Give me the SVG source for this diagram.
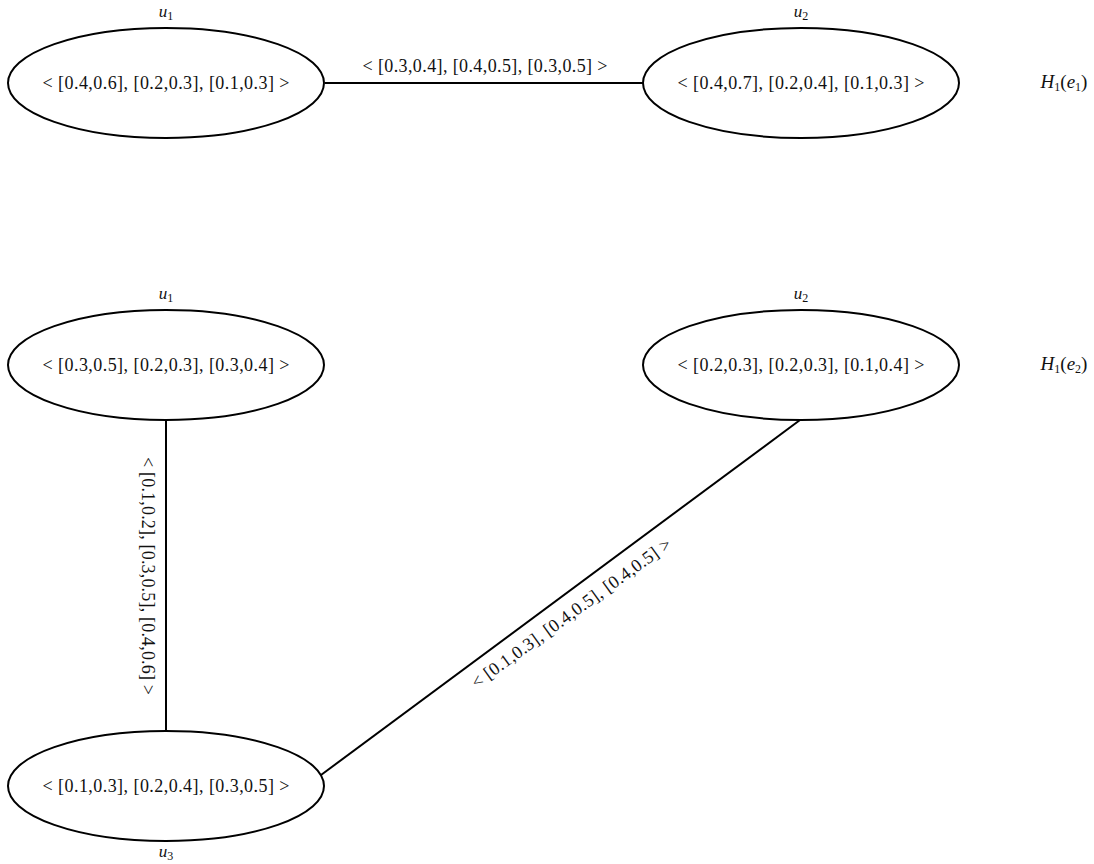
<svg xmlns="http://www.w3.org/2000/svg" width="1094" height="864" viewBox="0 0 1094 864">
  <style>
    .node { fill: #ffffff; stroke: #000000; stroke-width: 2; }
    .edge { stroke: #000000; stroke-width: 2; fill: none; }
    .val { font-family: "Liberation Serif", "Times New Roman", serif; font-size: 18px; fill: #111111; text-anchor: middle; }
    .name { font-family: "Liberation Serif", "Times New Roman", serif; font-size: 17px; font-style: italic; fill: #111111; text-anchor: middle; }
    .title { font-size: 19px; }
    .sub { font-size: 12px; font-style: normal; }
  </style>
  <rect width="1094" height="864" fill="#ffffff"/>

  <!-- connectors -->
  <g id="connectors">
    <line class="edge" x1="325" y1="83" x2="643" y2="83"/>
    <text class="val" x="485" y="72" textLength="245" lengthAdjust="spacing">&lt; [0.3,0.4], [0.4,0.5], [0.3,0.5] &gt;</text>

    <line class="edge" x1="166" y1="420" x2="166" y2="731"/>
    <text class="val" transform="translate(148,576) rotate(90)" x="0" y="6" textLength="238" lengthAdjust="spacing">&lt; [0.1,0.2], [0.3,0.5], [0.4,0.6] &gt;</text>

    <line class="edge" x1="800" y1="420" x2="321" y2="775"/>
    <text class="val" transform="translate(571,613) rotate(-36)" x="0" y="6" textLength="242" lengthAdjust="spacing">&lt; [0.1,0.3], [0.4,0.5], [0.4,0.5] &gt;</text>
  </g>

  <!-- graph H1(e1) -->
  <g id="e1-u1">
    <ellipse class="node" cx="166" cy="83" rx="158" ry="55"/>
    <text class="val" x="166" y="89" textLength="247" lengthAdjust="spacing">&lt; [0.4,0.6], [0.2,0.3], [0.1,0.3] &gt;</text>
    <text class="name" x="166" y="17">u<tspan class="sub" dy="3">1</tspan></text>
  </g>
  <g id="e1-u2">
    <ellipse class="node" cx="801" cy="83" rx="158" ry="55"/>
    <text class="val" x="801" y="89" textLength="247" lengthAdjust="spacing">&lt; [0.4,0.7], [0.2,0.4], [0.1,0.3] &gt;</text>
    <text class="name" x="801" y="17">u<tspan class="sub" dy="3">2</tspan></text>
  </g>
  <g id="title-e1">
    <text class="name title" x="1064" y="88">H<tspan class="sub" dy="3">1</tspan><tspan dy="-3" font-style="normal">(</tspan>e<tspan class="sub" dy="3">1</tspan><tspan dy="-3" font-style="normal">)</tspan></text>
  </g>

  <!-- graph H1(e2) -->
  <g id="e2-u1">
    <ellipse class="node" cx="166" cy="365" rx="158" ry="55"/>
    <text class="val" x="166" y="371" textLength="247" lengthAdjust="spacing">&lt; [0.3,0.5], [0.2,0.3], [0.3,0.4] &gt;</text>
    <text class="name" x="166" y="299">u<tspan class="sub" dy="3">1</tspan></text>
  </g>
  <g id="e2-u2">
    <ellipse class="node" cx="801" cy="365" rx="158" ry="55"/>
    <text class="val" x="801" y="371" textLength="247" lengthAdjust="spacing">&lt; [0.2,0.3], [0.2,0.3], [0.1,0.4] &gt;</text>
    <text class="name" x="801" y="299">u<tspan class="sub" dy="3">2</tspan></text>
  </g>
  <g id="e2-u3">
    <ellipse class="node" cx="166" cy="786" rx="158" ry="55"/>
    <text class="val" x="166" y="792" textLength="247" lengthAdjust="spacing">&lt; [0.1,0.3], [0.2,0.4], [0.3,0.5] &gt;</text>
    <text class="name" x="166" y="857">u<tspan class="sub" dy="3">3</tspan></text>
  </g>
  <g id="title-e2">
    <text class="name title" x="1064" y="370">H<tspan class="sub" dy="3">1</tspan><tspan dy="-3" font-style="normal">(</tspan>e<tspan class="sub" dy="3">2</tspan><tspan dy="-3" font-style="normal">)</tspan></text>
  </g>
</svg>
